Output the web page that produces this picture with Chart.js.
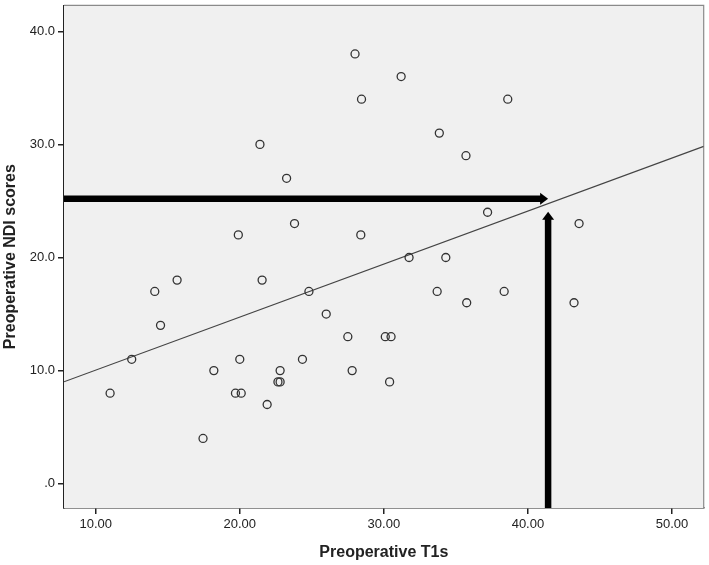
<!DOCTYPE html>
<html>
<head>
<meta charset="utf-8">
<script src="https://cdn.jsdelivr.net/npm/chart.js@4.4.1/dist/chart.umd.min.js"></script>
<style>
  html, body { margin: 0; padding: 0; background: #fff; }
  #wrap { width: 709px; height: 565px; }
</style>
</head>
<body>
<div id="wrap"><canvas id="chart-scatter" width="709" height="565"></canvas></div>
<script>
// Preoperative T1s (x) vs Preoperative NDI scores (y)
var t1s = [11.0, 12.5, 14.1, 14.5, 15.65, 17.45, 18.2, 19.7, 20.1, 20.0, 19.9, 21.4, 21.55, 21.9,
           22.8, 22.65, 22.8, 23.25, 23.8, 24.35, 24.8, 26.0, 27.5, 27.8, 28.0, 28.45, 28.4,
           30.1, 30.5, 30.4, 31.2, 31.75, 33.7, 33.85, 34.3, 35.7, 35.75, 37.2, 38.35, 38.6, 43.2, 43.55];
var ndi = [8, 11, 17, 14, 18, 4, 10, 8, 8, 11, 22, 30, 18, 7,
           10, 9, 9, 27, 23, 11, 17, 15, 13, 10, 38, 34, 22,
           13, 13, 9, 36, 20, 17, 31, 20, 29, 16, 24, 17, 34, 16, 23];

// fit line end points (x range of the axis)
var fitX = [7.8, 52.2];
var fitY = [9.01, 29.83];

// arrows: horizontal to the line, vertical up from the axis
var arrowH = [{x: 7.8, y: 25.2}, {x: 41.4, y: 25.2}];
var arrowV = [{x: 41.4, y: -2.15}, {x: 41.4, y: 24.05}];

var xTicks = [10, 20, 30, 40, 50];
var xTickLabels = ['10.00', '20.00', '30.00', '40.00', '50.00'];
var yTicks = [0, 10, 20, 30, 40];
var yTickLabels = ['.0', '10.0', '20.0', '30.0', '40.0'];

var points = t1s.map(function (x, i) { return {x: x, y: ndi[i]}; });
var fitLine = fitX.map(function (x, i) { return {x: x, y: fitY[i]}; });

var plotFrame = {
    id: 'plotFrame',
    beforeDatasetsDraw: function (chart) {
        var a = chart.chartArea, ctx = chart.ctx;
        ctx.save();
        ctx.fillStyle = '#f0f0f0';
        ctx.fillRect(a.left, a.top, a.right - a.left, a.bottom - a.top);
        ctx.strokeStyle = '#8a8a8a';
        ctx.lineWidth = 1.2;
        ctx.beginPath();
        ctx.moveTo(a.left, a.top);
        ctx.lineTo(a.right, a.top);
        ctx.lineTo(a.right, a.bottom);
        ctx.stroke();
        ctx.restore();
    }
};

var arrows = {
    id: 'arrows',
    afterDatasetsDraw: function (chart) {
        var xs = chart.scales.x, ys = chart.scales.y, ctx = chart.ctx;
        function draw(seg) {
            var x0 = xs.getPixelForValue(seg[0].x), y0 = ys.getPixelForValue(seg[0].y);
            var x1 = xs.getPixelForValue(seg[1].x), y1 = ys.getPixelForValue(seg[1].y);
            var len = Math.hypot(x1 - x0, y1 - y0);
            var ux = (x1 - x0) / len, uy = (y1 - y0) / len;
            var head = 8, half = 6;
            var bx = x1 - ux * head, by = y1 - uy * head;
            ctx.save();
            ctx.strokeStyle = '#000';
            ctx.fillStyle = '#000';
            ctx.lineWidth = 6.5;
            ctx.beginPath();
            ctx.moveTo(x0, y0);
            ctx.lineTo(bx + ux, by + uy);
            ctx.stroke();
            ctx.beginPath();
            ctx.moveTo(x1, y1);
            ctx.lineTo(bx - uy * half, by + ux * half);
            ctx.lineTo(bx + uy * half, by - ux * half);
            ctx.closePath();
            ctx.fill();
            ctx.restore();
        }
        draw(arrowH);
        draw(arrowV);
    }
};

function noOverflow(s) {
    s.paddingTop = 0;
    s.paddingBottom = 0;
    s.paddingLeft = 0;
    s.paddingRight = 0;
}

window.charts = window.charts || {};
window.charts['chart-scatter'] = new Chart(document.getElementById('chart-scatter'), {
    type: 'scatter',
    data: {
        datasets: [{
            label: 'Patients',
            data: points,
            pointStyle: 'circle',
            pointRadius: 4,
            pointHoverRadius: 4,
            borderColor: '#333',
            borderWidth: 1.3,
            backgroundColor: 'rgba(0,0,0,0)'
        }, {
            type: 'line',
            label: 'Fit',
            data: fitLine,
            borderColor: '#444',
            borderWidth: 1.2,
            pointRadius: 0,
            fill: false
        }]
    },
    options: {
        responsive: false,
        animation: false,
        events: [],
        layout: { padding: { top: 3, right: 5, left: 0, bottom: 0 } },
        plugins: { legend: { display: false }, tooltip: { enabled: false } },
        scales: {
            x: {
                type: 'linear',
                min: 7.8,
                max: 52.2,
                afterFit: function (s) { s.height = 57; noOverflow(s); },
                afterBuildTicks: function (s) { s.ticks = xTicks.map(function (v) { return {value: v}; }); },
                border: { display: true, color: '#222', width: 1.6 },
                grid: { display: true, drawOnChartArea: false, drawTicks: true, tickLength: 6, color: '#222', lineWidth: 1.5 },
                ticks: {
                    color: '#222',
                    padding: 3,
                    font: { family: 'Liberation Sans, Arial, sans-serif', size: 13 },
                    callback: function (v) { return xTickLabels[xTicks.indexOf(v)]; }
                },
                title: {
                    display: true,
                    text: 'Preoperative T1s',
                    color: '#222',
                    padding: { top: 0, bottom: 3 },
                    font: { family: 'Liberation Sans, Arial, sans-serif', size: 16, weight: 'bold' }
                }
            },
            y: {
                type: 'linear',
                min: -2.15,
                max: 42.3,
                afterFit: function (s) { s.width = 64; noOverflow(s); },
                afterBuildTicks: function (s) { s.ticks = yTicks.map(function (v) { return {value: v}; }); },
                border: { display: true, color: '#222', width: 1.6 },
                grid: { display: true, drawOnChartArea: false, drawTicks: true, tickLength: 6, color: '#222', lineWidth: 1.5 },
                ticks: {
                    color: '#222',
                    padding: 3,
                    font: { family: 'Liberation Sans, Arial, sans-serif', size: 13 },
                    callback: function (v) { return yTickLabels[yTicks.indexOf(v)]; }
                },
                title: {
                    display: true,
                    text: 'Preoperative NDI scores',
                    color: '#222',
                    padding: { top: 1, bottom: 0 },
                    font: { family: 'Liberation Sans, Arial, sans-serif', size: 16, weight: 'bold' }
                }
            }
        }
    },
    plugins: [plotFrame, arrows]
});
</script>
</body>
</html>
